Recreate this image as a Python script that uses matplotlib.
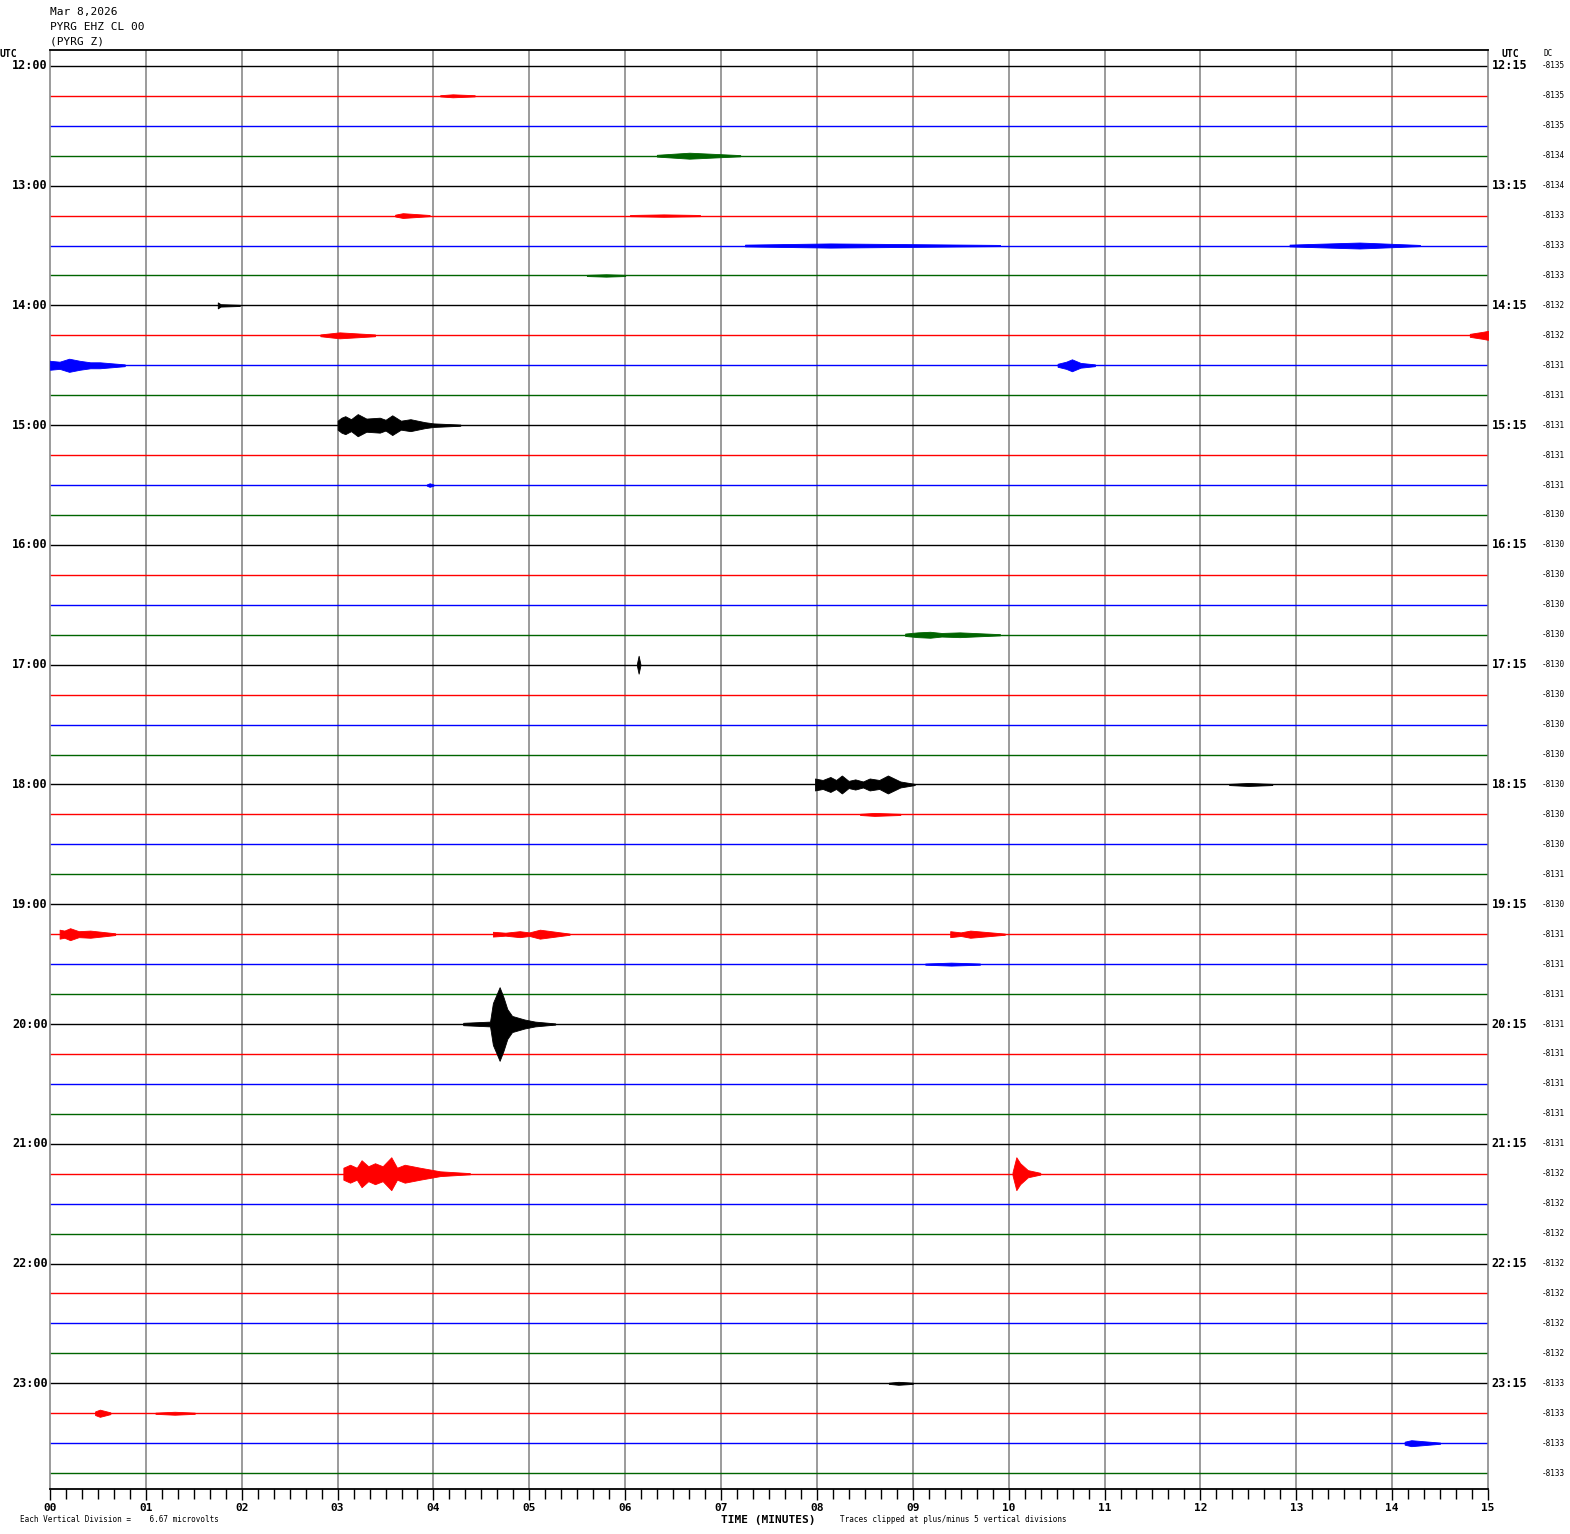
import numpy as np
import matplotlib
matplotlib.use("Agg")
import matplotlib.pyplot as plt
from matplotlib.transforms import blended_transform_factory

# station / header
header_lines = ["Mar 8,2026", "PYRG EHZ CL 00", "(PYRG Z)"]
trace_colors = ["black", "red", "blue", "#006400"]
n_rows = 48

left_labels = ["12:00", "13:00", "14:00", "15:00", "16:00", "17:00",
               "18:00", "19:00", "20:00", "21:00", "22:00", "23:00"]
right_labels = ["12:15", "13:15", "14:15", "15:15", "16:15", "17:15",
                "18:15", "19:15", "20:15", "21:15", "22:15", "23:15"]
minute_labels = ["00", "01", "02", "03", "04", "05", "06", "07",
                 "08", "09", "10", "11", "12", "13", "14", "15"]

dc_offsets = [-8135, -8135, -8135, -8134, -8134, -8133, -8133, -8133,
              -8132, -8132, -8131, -8131, -8131, -8131, -8131,
              -8130, -8130, -8130, -8130, -8130, -8130, -8130, -8130,
              -8130, -8130, -8130, -8130, -8131, -8130,
              -8131, -8131, -8131, -8131, -8131, -8131, -8131, -8131,
              -8132, -8132, -8132, -8132, -8132, -8132, -8132,
              -8133, -8133, -8133, -8133]

# events: row, envelope times (min), half amplitude (trace spacings)
event_rows = [1, 3, 5, 5, 6, 6, 7, 8, 9, 9, 10, 10, 12, 14, 19, 20,
              24, 24, 25, 29, 29, 29, 30, 32, 37, 37, 44, 45, 45, 46]
event_minutes = [
    [4.07, 4.2, 4.43],
    [6.33, 6.67, 7.2],
    [3.6, 3.68, 3.96],
    [6.05, 6.4, 6.78],
    [7.25, 8.14, 9.91],
    [12.93, 13.66, 14.29],
    [5.6, 5.8, 6.0],
    [1.75, 1.78, 1.98],
    [2.82, 3.02, 3.39],
    [14.81, 14.95, 15.0],
    [0.0, 0.1, 0.2, 0.31, 0.42, 0.52, 0.78],
    [10.51, 10.6, 10.66, 10.75, 10.9],
    [3.0, 3.04, 3.08, 3.14, 3.21, 3.3, 3.44, 3.5, 3.57, 3.66, 3.76, 3.91, 4.0, 4.28],
    [3.93, 3.96, 4.0],
    [8.92, 9.05, 9.18, 9.3, 9.49, 9.91],
    [6.12, 6.14, 6.16],
    [7.98, 8.06, 8.14, 8.2, 8.26, 8.33, 8.4, 8.48, 8.55, 8.65, 8.74, 8.87, 9.02],
    [12.3, 12.5, 12.75],
    [8.45, 8.6, 8.87],
    [0.1, 0.15, 0.21, 0.3, 0.42, 0.68],
    [4.62, 4.75, 4.9, 5.0, 5.11, 5.42],
    [9.39, 9.5, 9.6, 9.96],
    [9.13, 9.4, 9.7],
    [4.31, 4.59, 4.62, 4.66, 4.69, 4.73, 4.77, 4.82, 4.95, 5.06, 5.27],
    [3.06, 3.13, 3.2, 3.25, 3.32, 3.39, 3.47, 3.56, 3.62, 3.7, 3.86, 4.07, 4.38],
    [10.04, 10.08, 10.12, 10.2, 10.33],
    [8.75, 8.85, 9.0],
    [0.47, 0.52, 0.63],
    [1.1, 1.3, 1.51],
    [14.13, 14.2, 14.5],
]
event_amps = [
    [0.02, 0.05, 0.02],
    [0.03, 0.1, 0.02],
    [0.03, 0.08, 0.02],
    [0.02, 0.04, 0.02],
    [0.03, 0.07, 0.02],
    [0.03, 0.1, 0.02],
    [0.02, 0.04, 0.02],
    [0.1, 0.04, 0.02],
    [0.03, 0.1, 0.03],
    [0.05, 0.12, 0.15],
    [0.15, 0.12, 0.22, 0.15, 0.1, 0.1, 0.03],
    [0.05, 0.12, 0.2, 0.08, 0.03],
    [0.15, 0.25, 0.3, 0.2, 0.37, 0.22, 0.25, 0.18, 0.33, 0.15, 0.2, 0.1, 0.06, 0.02],
    [0.02, 0.06, 0.02],
    [0.04, 0.08, 0.1, 0.06, 0.08, 0.02],
    [0.0, 0.3, 0.0],
    [0.2, 0.15, 0.25, 0.15, 0.3, 0.12, 0.17, 0.1, 0.2, 0.15, 0.3, 0.1, 0.02],
    [0.02, 0.05, 0.02],
    [0.02, 0.05, 0.02],
    [0.15, 0.12, 0.2, 0.1, 0.12, 0.03],
    [0.08, 0.05, 0.1, 0.06, 0.15, 0.02],
    [0.1, 0.06, 0.12, 0.02],
    [0.02, 0.05, 0.02],
    [0.04, 0.08, 0.7, 1.0, 1.23, 0.9, 0.5, 0.27, 0.15, 0.08, 0.02],
    [0.2, 0.3, 0.2, 0.45, 0.25, 0.35, 0.25, 0.55, 0.2, 0.3, 0.2, 0.08, 0.02],
    [0.05, 0.55, 0.35, 0.12, 0.03],
    [0.02, 0.05, 0.02],
    [0.06, 0.12, 0.03],
    [0.02, 0.05, 0.02],
    [0.05, 0.1, 0.02],
]

mono = "DejaVu Sans Mono"

fig = plt.figure(figsize=(15.7, 15.34), dpi=100)
ax = fig.add_axes([50 / 1570, 1 - 1489 / 1534, 1438 / 1570, 1439 / 1534])
ax.set_xlim(0, 15)
ax.set_ylim(n_rows - 0.47, -0.53)

# minute grid
ax.vlines(np.arange(1, 15), -0.6, n_rows, color="#808080", lw=1.1, zorder=1)

for row in range(n_rows):
    c = trace_colors[row % 4]
    ax.plot([0, 15], [row, row], color=c, lw=1.0, zorder=2, solid_capstyle="butt")

for row, t, a in zip(event_rows, event_minutes, event_amps):
    c = trace_colors[row % 4]
    t = np.asarray(t)
    a = np.asarray(a)
    ax.fill_between(t, row - a, row + a, color=c, lw=0.6, zorder=3)

for sp in ["left", "right"]:
    ax.spines[sp].set_color("#808080")
    ax.spines[sp].set_linewidth(1.1)
for sp in ["top", "bottom"]:
    ax.spines[sp].set_color("black")
    ax.spines[sp].set_linewidth(1.3)

ax.set_yticks([])
ax.set_xticks(np.arange(16))
ax.set_xticklabels(minute_labels, fontfamily=mono, fontweight="bold", fontsize=8)
ax.set_xticks(np.arange(0, 15, 1 / 6), minor=True)
ax.tick_params(axis="x", which="major", direction="out", length=8, width=1, pad=2)
ax.tick_params(axis="x", which="minor", direction="out", length=7, width=1)

ytrans = blended_transform_factory(ax.transAxes, ax.transData)
for i, lab in enumerate(left_labels):
    ax.text(-0.0015, 4 * i, lab, transform=ytrans, ha="right", va="center",
            fontfamily=mono, fontweight="bold", fontsize=8.5)
for i, lab in enumerate(right_labels):
    ax.text(1.0025, 4 * i, lab, transform=ytrans, ha="left", va="center",
            fontfamily=mono, fontweight="bold", fontsize=8.5)
for row, dc in enumerate(dc_offsets):
    ax.text(1.0375, row, str(dc), transform=ytrans, ha="left", va="center",
            fontfamily=mono, fontsize=5.5)

# header and footer text
for i, line in enumerate(header_lines):
    fig.text(50 / 1570, 1 - (12 + 15 * i) / 1534, line, ha="left", va="center",
             fontfamily=mono, fontsize=8)
fig.text(0 / 1570, 1 - 54 / 1534, "UTC", ha="left", va="center",
         fontfamily=mono, fontweight="bold", fontsize=7)
fig.text(1502 / 1570, 1 - 54 / 1534, "UTC", ha="left", va="center",
         fontfamily=mono, fontweight="bold", fontsize=7)
fig.text(1543 / 1570, 1 - 53 / 1534, "DC", ha="left", va="center",
         fontfamily=mono, fontsize=5.5)
fig.text(768 / 1570, 1 - 1520 / 1534, "TIME (MINUTES)", ha="center", va="center",
         fontfamily=mono, fontweight="bold", fontsize=8)
fig.text(840 / 1570, 1 - 1520 / 1534,
         "Traces clipped at plus/minus 5 vertical divisions",
         ha="left", va="center", fontfamily=mono, fontsize=5.5)
fig.text(20 / 1570, 1 - 1520 / 1534, "Each Vertical Division =    6.67 microvolts",
         ha="left", va="center", fontfamily=mono, fontsize=5.5)

fig.savefig("out.png", dpi=100, facecolor="white")
